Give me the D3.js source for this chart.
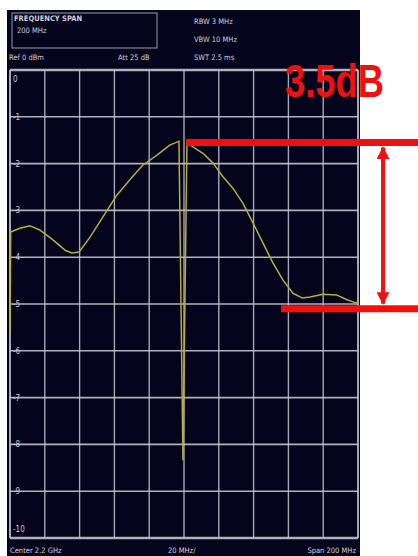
<!DOCTYPE html>
<html><head><meta charset="utf-8">
<script src="https://cdn.jsdelivr.net/npm/d3@7"></script>
<style>html,body{margin:0;padding:0;background:#fff;}svg{display:block;}</style>
</head><body>
<script>
// ---- data ----
const freqMHz = [2100,2100.4,2101.1,2105.7,2111.5,2117.2,2124.7,2131.6,2135.6,2139.7,2146.0,2153.4,2161.5,2170.1,2176.4,2184.5,2192.0,2196.0,2197.1,2199.4,2201.7,2203.4,2210.9,2216.7,2222.4,2228.2,2233.9,2239.7,2245.4,2251.1,2256.9,2262.6,2267.8,2272.4,2279.9,2287.9,2293.7,2298.3,2300];
const levelDb = [-5.6,-3.46,-3.45,-3.38,-3.33,-3.42,-3.63,-3.85,-3.91,-3.89,-3.57,-3.14,-2.67,-2.29,-2.03,-1.82,-1.60,-1.54,-1.52,-8.33,-1.55,-1.60,-1.78,-1.99,-2.28,-2.53,-2.85,-3.27,-3.70,-4.12,-4.49,-4.77,-4.87,-4.85,-4.79,-4.81,-4.91,-4.97,-4.98];
const yTicks = [0,-1,-2,-3,-4,-5,-6,-7,-8,-9,-10];
const yTickLabels = ["0","-1","-2","-3","-4","-5","-6","-7","-8","-9","-10"];
const xGrid = [2100,2120,2140,2160,2180,2200,2220,2240,2260,2280,2300];
const headerLeft = ["FREQUENCY SPAN","200 MHz"];
const headerRef = "Ref  0 dBm";
const headerAtt = "Att  25 dB";
const headerRight = ["RBW 3 MHz","VBW 10 MHz","SWT 2.5 ms"];
const footer = ["Center  2.2 GHz","20 MHz/","Span  200 MHz"];
const peakLevel = -1.55, shoulderLevel = -5.1, markStartPeak = 2201.2, markStartShoulder = 2255.8;
const deltaLabel = "3.5dB";

// ---- drawing ----
const W = 418, H = 556;
const svg = d3.select("body").append("svg").attr("width", W).attr("height", H);
const L = 10, R = 358, T = 70, B = 538;
const x = d3.scaleLinear().domain([2100, 2300]).range([L, R]);
const y = d3.scaleLinear().domain([0, -10]).range([T, B]);

svg.append("rect").attr("x", 7).attr("y", 10).attr("width", 353).attr("height", H - 10).attr("fill", "#04041c");

const gridCol = "#c4c4d0";
// horizontal grid
svg.append("g").selectAll("line").data(yTicks).join("line")
  .attr("x1", L).attr("x2", R).attr("y1", d => y(d)).attr("y2", d => y(d))
  .attr("stroke", gridCol).attr("stroke-width", d => (d === 0 || d === -10) ? 2.5 : 1.6).attr("opacity", 0.9);
// vertical grid
svg.append("g").selectAll("line").data(xGrid).join("line")
  .attr("x1", d => x(d)).attr("x2", d => x(d)).attr("y1", T).attr("y2", B)
  .attr("stroke", gridCol).attr("stroke-width", d => (d === 2100 || d === 2300) ? 2 : 1.4).attr("opacity", 0.85);

// y labels
svg.append("g").selectAll("text").data(yTicks).join("text")
  .attr("x", 13)
  .attr("y", (d, i) => i === 0 ? y(d) + 12 : (i === yTicks.length - 1 ? y(d) - 6 : y(d) + 3))
  .attr("fill", "#c8c8d4").attr("font-family", "DejaVu Sans Condensed, DejaVu Sans").attr("font-size", 8)
  .text((d, i) => yTickLabels[i]);

// trace
const line = d3.line().x((d, i) => x(freqMHz[i])).y((d, i) => y(levelDb[i]));
svg.append("path").datum(levelDb).attr("d", line)
  .attr("fill", "none").attr("stroke", "#b4ae3c").attr("stroke-width", 1.5).attr("stroke-linejoin", "round");

// header
const hf = "DejaVu Sans Condensed, DejaVu Sans";
svg.append("rect").attr("x", 12).attr("y", 13).attr("width", 145).attr("height", 35)
  .attr("fill", "none").attr("stroke", "#9a9aa8").attr("stroke-width", 1);
const tcol = "#d0d0da";
svg.append("text").attr("x", 14).attr("y", 21).attr("fill", tcol).attr("font-family", hf).attr("font-size", 7.5).attr("font-weight", "bold").text(headerLeft[0]);
svg.append("text").attr("x", 17).attr("y", 33).attr("fill", tcol).attr("font-family", hf).attr("font-size", 7.5).text(headerLeft[1]);
svg.append("text").attr("x", 9).attr("y", 60).attr("fill", tcol).attr("font-family", hf).attr("font-size", 7.5).text(headerRef);
svg.append("text").attr("x", 118).attr("y", 60).attr("fill", tcol).attr("font-family", hf).attr("font-size", 7.5).text(headerAtt);
headerRight.forEach((t, i) => {
  svg.append("text").attr("x", 194).attr("y", 24 + i * 18).attr("fill", tcol).attr("font-family", hf).attr("font-size", 7.5).text(t);
});
// footer
svg.append("text").attr("x", 10).attr("y", 553).attr("fill", tcol).attr("font-family", hf).attr("font-size", 7.5).text(footer[0]);
svg.append("text").attr("x", 168).attr("y", 553).attr("fill", tcol).attr("font-family", hf).attr("font-size", 7.5).text(footer[1]);
svg.append("text").attr("x", 356).attr("y", 553).attr("text-anchor", "end").attr("fill", tcol).attr("font-family", hf).attr("font-size", 7.5).text(footer[2]);

// annotation
const red = "#f01010";
svg.append("line").attr("x1", x(markStartPeak)).attr("x2", W).attr("y1", y(peakLevel)).attr("y2", y(peakLevel))
  .attr("stroke", red).attr("stroke-width", 7);
svg.append("line").attr("x1", x(markStartShoulder)).attr("x2", W).attr("y1", y(shoulderLevel)).attr("y2", y(shoulderLevel))
  .attr("stroke", red).attr("stroke-width", 7);
const ax = 383;
const defs = svg.append("defs");
defs.append("marker").attr("id", "ah").attr("viewBox", "0 0 10 10").attr("refX", 9).attr("refY", 5)
  .attr("markerWidth", 3.2).attr("markerHeight", 3.2).attr("orient", "auto-start-reverse")
  .append("path").attr("d", "M0,0L10,5L0,10Z").attr("fill", red);
svg.append("line").attr("x1", ax).attr("x2", ax).attr("y1", y(peakLevel) + 5).attr("y2", y(shoulderLevel) - 5)
  .attr("stroke", red).attr("stroke-width", 4)
  .attr("marker-start", "url(#ah)").attr("marker-end", "url(#ah)");
svg.append("text").attr("x", 285).attr("y", 97).attr("fill", red)
  .attr("font-family", "Liberation Sans, Arial, sans-serif").attr("font-weight", "bold").attr("font-size", 46)
  .attr("textLength", 99).attr("lengthAdjust", "spacingAndGlyphs").text(deltaLabel);
</script>
</body></html>
